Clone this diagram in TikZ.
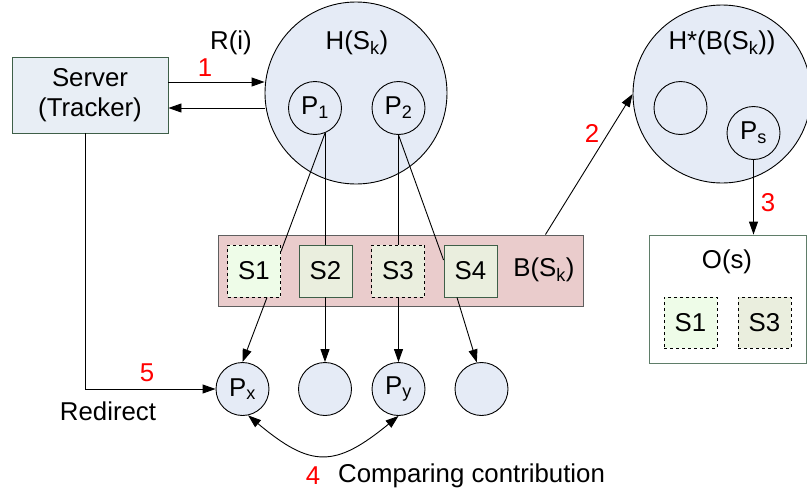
\documentclass[tikz,border=0pt]{standalone}
\usepackage{fontspec}
\setmainfont{Liberation Sans}
\usetikzlibrary{arrows.meta}
\definecolor{cfill}{RGB}{229,235,246}
\definecolor{sfill}{RGB}{232,238,245}
\definecolor{sborder}{RGB}{62,95,72}
\definecolor{bfill}{RGB}{234,204,204}
\definecolor{bborder}{RGB}{95,95,95}
\definecolor{lgreen}{RGB}{238,252,232}
\definecolor{beige}{RGB}{234,238,222}
\definecolor{oborder}{RGB}{95,125,105}
\newcommand{\sbs}[1]{\textsubscript{#1}}
\tikzset{
  txt/.style={font=\fontsize{25.8}{30}\selectfont, inner sep=0pt},
  redtxt/.style={txt, text=red},
  bigcirc/.style={circle, draw, fill=cfill, line width=0.9pt, inner sep=0pt},
  peer/.style={circle, draw, fill=cfill, line width=0.9pt, inner sep=0pt, minimum size=53pt, font=\fontsize{25.8}{30}\selectfont},
  seg/.style={rectangle, fill=beige, draw=sborder, line width=0.9pt, minimum width=53pt, minimum height=52pt, inner sep=0pt, font=\fontsize{25.8}{30}\selectfont},
  segd/.style={seg, draw=black, dashed},
  conn/.style={line width=0.9pt},
  arr/.style={conn, -{Triangle[length=13pt,width=9pt]}},
  arrboth/.style={conn, {Triangle[length=13pt,width=9pt]}-{Triangle[length=13pt,width=9pt]}},
}
\begin{document}
\begin{tikzpicture}[x=1pt,y=-1pt]
\useasboundingbox (0,0) rectangle (807,490);
% server
\node[rectangle, draw=sborder, fill=sfill, line width=0.9pt, minimum width=156pt, minimum height=76pt, align=center, font=\fontsize{25.8}{30}\selectfont] (server) at (90,95) {Server\\(Tracker)};
% H(Sk)
\node[bigcirc, minimum size=182pt] (H) at (356,93) {};
\node[txt] (Hlab) at (357,43) {H(S\sbs{k})};
\node[peer] (P1) at (315,108) {P\sbs{1}};
\node[peer] (P2) at (398.5,108) {P\sbs{2}};
% H*
\node[bigcirc, minimum size=178pt] (Hstar) at (722,94) {};
\node[txt] (Hstarlab) at (722,43) {H*(B(S\sbs{k}))};
\node[peer] (E) at (680.5,108) {};
\node[peer] (Ps) at (753.5,133) {P\sbs{s}};
% B box
\node[rectangle, draw=bborder, fill=bfill, line width=0.9pt, minimum width=365pt, minimum height=71pt] (B) at (400.5,270.5) {};
\node[segd, fill=lgreen] (S1) at (254,271) {S1};
\node[seg] (S2) at (325.5,271) {S2};
\node[segd] (S3) at (398,271) {S3};
\node[seg] (S4) at (470.5,271) {S4};
\node[txt] (Blab) at (544,270) {B(S\sbs{k})};
% O box
\node[rectangle, draw=oborder, fill=white, line width=0.9pt, minimum width=157pt, minimum height=128pt] (O) at (727.5,299) {};
\node[txt] (Olab) at (727,262) {O(s)};
\node[segd, fill=lgreen, minimum height=51pt] (OS1) at (690.5,322.5) {S1};
\node[segd, minimum height=51pt] (OS3) at (764.5,322.5) {S3};
% bottom peers
\node[peer] (Px) at (242.5,389) {P\sbs{x}};
\node[peer] (C2) at (325,389) {};
\node[peer] (Py) at (398.5,389) {P\sbs{y}};
\node[peer] (C4) at (481.5,389) {};
% labels
\node[txt] (Ri) at (231,43) {R(i)};
\node[redtxt] (n1) at (205,68) {1};
\node[redtxt] (n2) at (592,133) {2};
\node[redtxt] (n3) at (768,203) {3};
\node[redtxt] (n5) at (147,373) {5};
\node[txt] (redir) at (108,411) {Redirect};
\node[redtxt] (n4) at (313,476) {4};
\node[txt, anchor=west] (comp) at (338,476) {Comparing contribution};
% connectors
\draw[arr] ([yshift=13pt]server.east) -- ([yshift=13pt]server.east -| H.west);
\draw[arr] ([yshift=-13pt]server.east -| H.west) -- ([yshift=-13pt]server.east);
\draw[conn] (P1.-68) -- ([yshift=-7pt]S1.north east);
\draw[conn] (P1.-68) -- (P1.-68 |- S2.north);
\draw[conn] (P2.south) -- (P2.south |- S3.north);
\draw[conn] (P2.south) -- ([yshift=11pt]S4.west);
\draw[arr] ([xshift=-38pt]B.north east) -- (Hstar.west);
\draw[arr] (Ps.south) -- (Ps.south |- O.north);
\draw[arr] ([xshift=13pt]S1.south) -- (Px.north);
\draw[arr] (S2.south -| C2.north) -- (C2.north);
\draw[arr] (S3.south -| Py.north) -- (Py.north);
\draw[arr] ([xshift=-13.5pt]S4.south) -- (C4.100);
\draw[arr] ([xshift=-5pt]server.south) |- (Px.west);
\draw[arrboth] (Px.-78) .. controls (311,468) and (335,468) .. (Py.-90);
\end{tikzpicture}
\end{document}
